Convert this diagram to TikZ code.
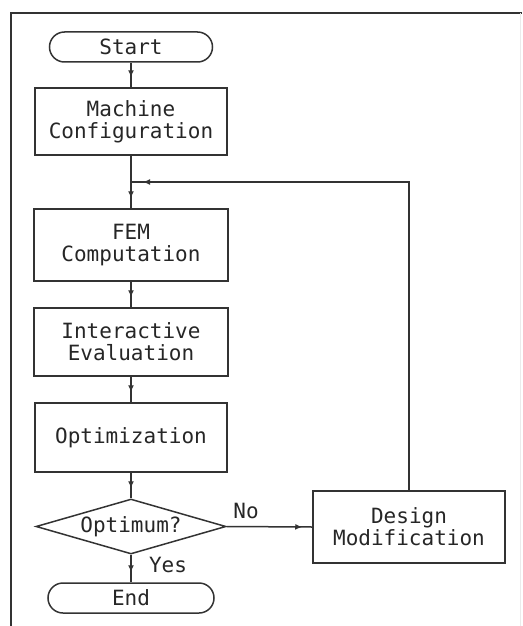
\documentclass[tikz,border=0pt]{standalone}
\usepackage{fontspec}
\setmonofont{DejaVu Sans Mono}
\usetikzlibrary{shapes.geometric,decorations.markings,arrows.meta}

\begin{document}
\begin{tikzpicture}[x=1pt,y=-1pt,
  ink/.style={draw=black!80, line width=1.5pt},
  lbl/.style={font=\ttfamily\fontsize{21}{22}\selectfont, text=black!85, align=center},
  box/.style={ink, lbl, rectangle, inner sep=0pt},
  term/.style={ink, lbl, rectangle, rounded corners=15pt, minimum height=30pt, inner sep=0pt},
  decision/.style={ink, lbl, diamond, aspect=3.45, inner sep=0pt, minimum width=190pt, minimum height=55pt},
  tip/.style={decoration={markings, mark=at position #1 with {\arrow{Latex[length=7pt,width=6pt]}}}},
  flow/.style={ink, postaction={decorate}, tip=-10pt},
]
\useasboundingbox (0,0) rectangle (522,626);

% frame
\draw[black!80, line width=2pt] (11,626) -- (11,13) -- (522,13);
\draw[black!8, line width=1pt] (520,13) -- (520,626);

% nodes
\node[term, minimum width=163pt] (start) at (131,47) {Start};
\node[box, minimum width=192pt, minimum height=67pt] (mach) at (131,121.5) {Machine\\Configuration};
\coordinate (join) at (131,182);
\node[box, minimum width=194pt, minimum height=72pt] (fem) at (131,245) {FEM\\Computation};
\node[box, minimum width=194pt, minimum height=68pt] (eval) at (131,342) {Interactive\\Evaluation};
\node[box, minimum width=192pt, minimum height=69pt] (opt) at (131,437.5) {Optimization};
\node[decision] (optq) at (131,526.5) {Optimum?};
\node[term, minimum width=166pt] (end) at (131,598) {End};
\node[box, minimum width=192pt, minimum height=72pt] (dmod) at (409,527) {Design\\Modification};

% labels
\node[lbl] (no) at (246,511) {No};
\node[lbl] (yes) at (168,565) {Yes};

% connectors
\draw[flow] (start) -- (mach);
\draw[flow] (mach) -- (fem);
\draw[flow] (fem) -- (eval);
\draw[flow] (eval) -- (opt);
\draw[flow] (opt) -- (optq);
\draw[flow] (optq) -- (end);
\draw[flow] (optq.east) -- (dmod.west);
\draw[ink, postaction={decorate}, tip=-12pt] (dmod.north) |- (join);
\end{tikzpicture}
\end{document}
